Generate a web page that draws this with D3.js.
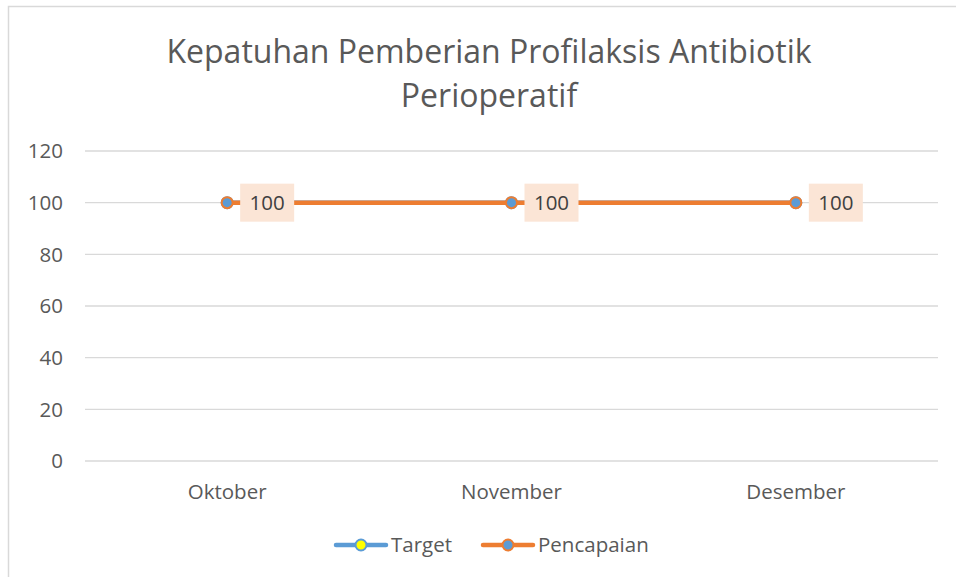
<!DOCTYPE html>
<html>
<head>
<meta charset="utf-8">
<script src="https://cdn.jsdelivr.net/npm/d3@7"></script>
<style>
  body { margin: 0; background: #fff; }
  text { font-family: "Open Sans", "Noto Sans", sans-serif; fill: #595959; }
</style>
</head>
<body>
<svg id="chart" width="956" height="577"></svg>
<script>
// data
var months = ['Oktober', 'November', 'Desember'];
var target = [100, 100, 100];
var pencapaian = [100, 100, 100];
var yTicks = [0, 20, 40, 60, 80, 100, 120];
var titleLines = ['Kepatuhan Pemberian Profilaksis Antibiotik', 'Perioperatif'];

var svg = d3.select('#chart');

// chart border (only left and top visible in frame)
svg.append('rect')
	.attr('x', 8.5).attr('y', 6.5)
	.attr('width', 980).attr('height', 600)
	.attr('fill', 'none')
	.attr('stroke', '#d9d9d9')
	.attr('stroke-width', 1.5);

var x = d3.scaleBand().domain(months).range([85, 938]);
var y = d3.scaleLinear().domain([0, 120]).range([461, 151]);

// title
svg.append('g').selectAll('text')
	.data(titleLines)
	.enter().append('text')
		.attr('x', 489)
		.attr('y', (d, i) => 63 + i * 44)
		.attr('text-anchor', 'middle')
		.style('font-size', '32px')
		.text(d => d);

// gridlines
svg.append('g').selectAll('line')
	.data(yTicks)
	.enter().append('line')
		.attr('x1', 85).attr('x2', 938)
		.attr('y1', d => y(d)).attr('y2', d => y(d))
		.attr('stroke', '#d9d9d9')
		.attr('stroke-width', 1.3);

// y axis labels
svg.append('g').selectAll('text')
	.data(yTicks)
	.enter().append('text')
		.attr('x', 63)
		.attr('y', d => y(d))
		.attr('dy', '0.35em')
		.attr('text-anchor', 'end')
		.style('font-size', '20.5px')
		.text(d => d);

// x axis labels
svg.append('g').selectAll('text')
	.data(months)
	.enter().append('text')
		.attr('x', d => x(d) + x.bandwidth() / 2)
		.attr('y', 492)
		.attr('dy', '0.35em')
		.attr('text-anchor', 'middle')
		.style('font-size', '20.5px')
		.text(d => d);

var cx = d => x(d) + x.bandwidth() / 2;
var line = d3.line()
	.x(d => cx(d.m))
	.y(d => y(d.v));

function series(vals, lineColor, markerFill) {
	var pts = months.map((m, i) => ({m: m, v: vals[i]}));
	var g = svg.append('g');
	g.append('path')
		.datum(pts)
		.attr('d', line)
		.attr('fill', 'none')
		.attr('stroke', lineColor)
		.attr('stroke-width', 4.5)
		.attr('stroke-linecap', 'round');
	g.selectAll('circle')
		.data(pts)
		.enter().append('circle')
			.attr('cx', d => cx(d.m))
			.attr('cy', d => y(d.v))
			.attr('r', 5.5)
			.attr('fill', markerFill)
			.attr('stroke', lineColor)
			.attr('stroke-width', 2);
	return {g: g, pts: pts};
}

series(target, '#5b9bd5', '#ffff00');
var p = series(pencapaian, '#ed7d31', '#5b9bd5');

// data labels for Pencapaian
var lbl = p.g.selectAll('g.lbl')
	.data(p.pts)
	.enter().append('g')
		.attr('class', 'lbl')
		.attr('transform', d => 'translate(' + (cx(d.m) + 13) + ',' + y(d.v) + ')');
lbl.append('rect')
	.attr('x', 0).attr('y', -19)
	.attr('width', 54).attr('height', 38)
	.attr('fill', '#fbe5d6');
lbl.append('text')
	.attr('x', 27).attr('y', 0)
	.attr('dy', '0.35em')
	.attr('text-anchor', 'middle')
	.style('font-size', '20.5px')
	.style('fill', '#404040')
	.text(d => d.v);

// legend
var legend = [
	{name: 'Target', line: '#5b9bd5', fill: '#ffff00', x: 334},
	{name: 'Pencapaian', line: '#ed7d31', fill: '#5b9bd5', x: 481}
];
var lg = svg.append('g').selectAll('g')
	.data(legend)
	.enter().append('g')
		.attr('transform', d => 'translate(' + d.x + ',545)');
lg.append('line')
	.attr('x1', 2).attr('x2', 52)
	.attr('stroke', d => d.line)
	.attr('stroke-width', 4.5)
	.attr('stroke-linecap', 'round');
lg.append('circle')
	.attr('cx', 27).attr('r', 5.5)
	.attr('fill', d => d.fill)
	.attr('stroke', d => d.line)
	.attr('stroke-width', 2);
lg.append('text')
	.attr('x', 57)
	.attr('dy', '0.35em')
	.style('font-size', '20.5px')
	.text(d => d.name);
</script>
</body>
</html>
